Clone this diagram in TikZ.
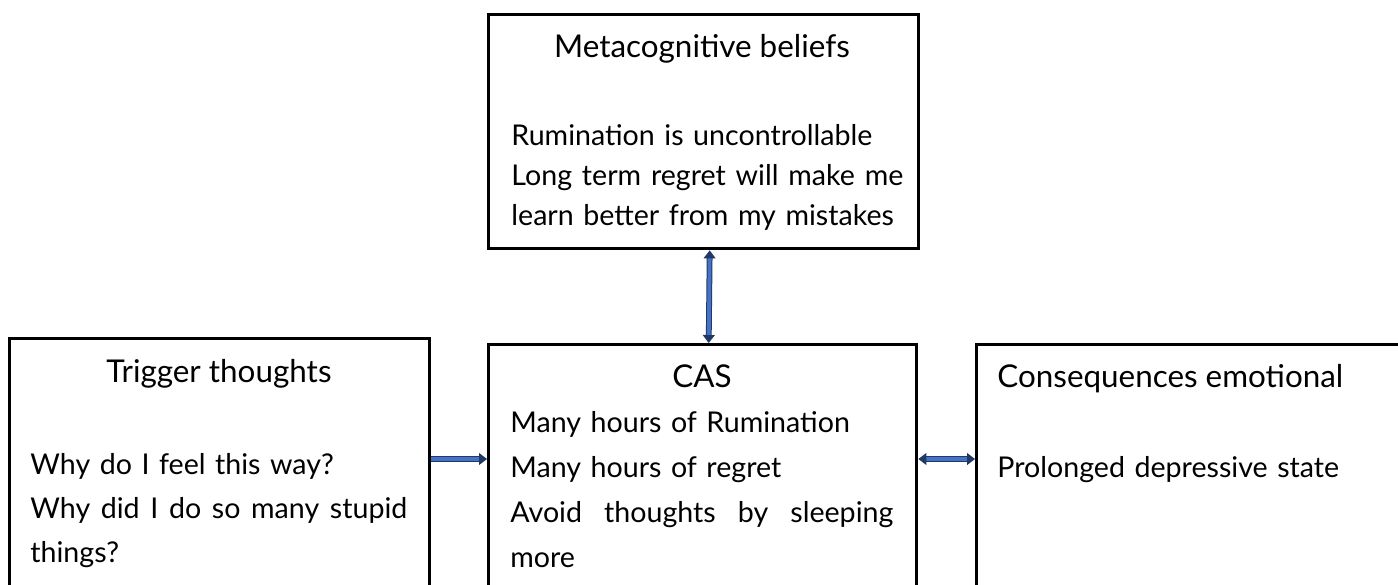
\documentclass[tikz,border=0pt]{standalone}
\usepackage{fontspec}
\setmainfont{Lato}
\usepackage{xcolor}
\usetikzlibrary{arrows.meta}
\definecolor{linkfill}{HTML}{4472C4}
\definecolor{linkedge}{HTML}{203864}
\newlength\pxu
\setlength\pxu{0.5pt}
% a justified line, #1 wide in pixels (\hfill between the words)
\newcommand{\fullline}[2]{\makebox[#1\pxu][l]{#2}}

\begin{document}
\begin{tikzpicture}[x=0.5pt, y=-0.5pt,
    box/.style={draw, line width=1.7pt, anchor=north west, inner sep=0pt},
    ttl/.style={anchor=base, inner sep=0pt, font=\fontsize{15.7pt}{18pt}\selectfont},
    txt/.style={anchor=base west, align=left, inner sep=0pt, text width=#1},
    link/.style={draw=linkedge, line width=0.5pt, double=linkfill, double distance=1.9pt,
        arrows={-Triangle[length=4pt, width=6pt]}}]
    \useasboundingbox (0,0) rectangle (1398,584);
    \clip (0,0) rectangle (1398,584);

    % Boxes -- the lower three run past the bottom edge
    \node[box, minimum width=430\pxu, minimum height=234\pxu] (meta) at (487,13) {};
    \node[box, minimum width=420\pxu, minimum height=400\pxu] (trig) at (8,337) {};
    \node[box, minimum width=428\pxu, minimum height=400\pxu] (cas) at (487,343) {};
    \node[box, minimum width=500\pxu, minimum height=400\pxu] (cons) at (975,343) {};

    % Metacognitive beliefs
    \node[ttl] (metatitle) at (702,57) {Metacognitive beliefs};
    \node[txt=400\pxu, font=\fontsize{14.3pt}{20pt}\selectfont] (metatext) at (511,145) {
        Rumination is uncontrollable\\
        \fullline{392}{Long\hfill term\hfill regret\hfill will\hfill make\hfill me}\\
        learn better from my mistakes};

    % Trigger thoughts
    \node[ttl] (trigtitle) at (219,382) {Trigger thoughts};
    \node[txt=385\pxu, font=\fontsize{14.3pt}{22pt}\selectfont] (trigtext) at (30,474) {
        Why do I feel this way?\\
        \fullline{377}{Why\hfill did\hfill I\hfill do\hfill so\hfill many\hfill stupid}\\
        things?};

    % CAS
    \node[ttl] (castitle) at (702,387) {CAS};
    \node[txt=390\pxu, font=\fontsize{14.3pt}{22.5pt}\selectfont] (castext) at (510,432) {
        Many hours of Rumination\\
        Many hours of regret\\
        \fullline{383}{Avoid\hfill thoughts\hfill by\hfill sleeping}\\
        more};

    % Consequences
    \node[ttl, anchor=base west] (constitle) at (997,387) {Consequences emotional};
    \node[txt=380\pxu, font=\fontsize{14.3pt}{20pt}\selectfont] (constext) at (997,477) {
        Prolonged depressive state};

    % Links
    \coordinate (row) at (0,459);
    \draw[link, arrows={Triangle[length=4pt, width=6pt]-Triangle[length=4pt, width=6pt]}]
        ([xshift=6\pxu]meta.south) -- ([xshift=6\pxu]cas.north);
    \draw[link] (trig.east |- row) -- (cas.west |- row);
    \draw[link, arrows={Triangle[length=4pt, width=6pt]-Triangle[length=4pt, width=6pt]}]
        (cas.east |- row) -- (cons.west |- row);
\end{tikzpicture}
\end{document}
